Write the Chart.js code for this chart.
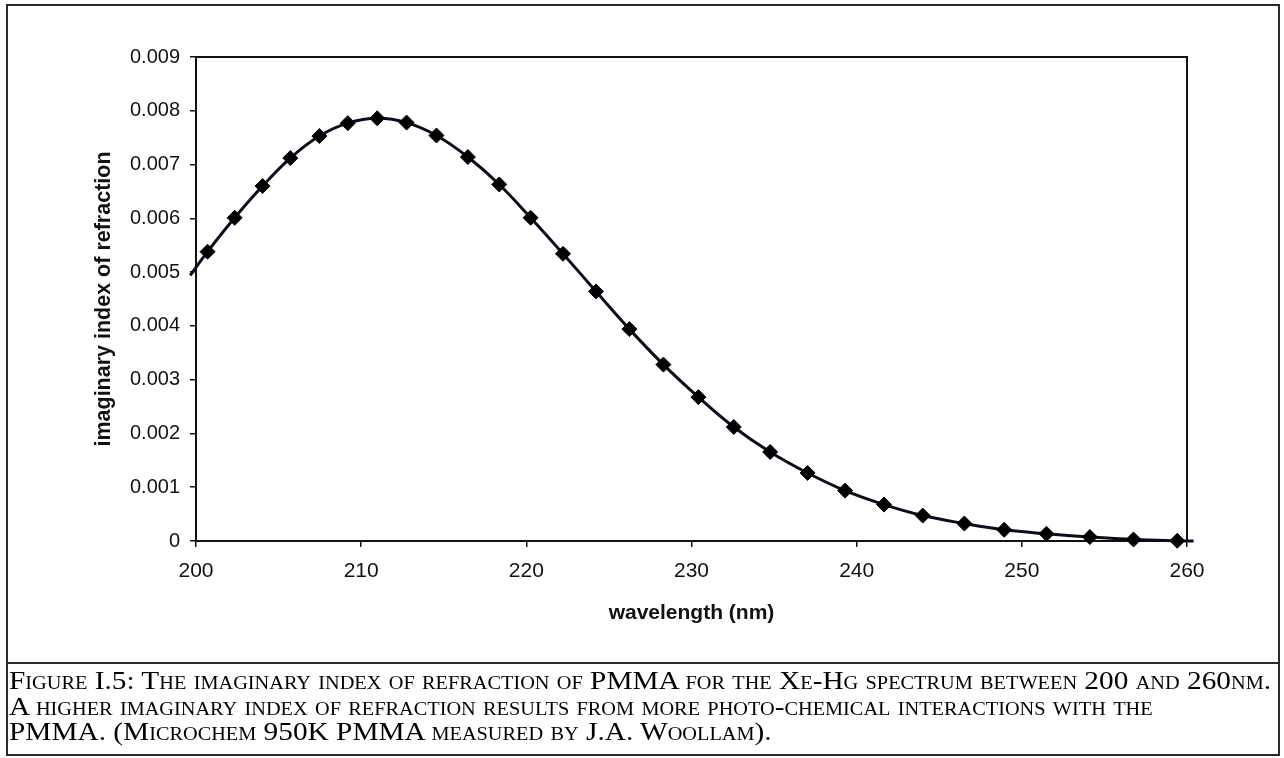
<!DOCTYPE html>
<html>
<head>
<meta charset="utf-8">
<script src="https://cdn.jsdelivr.net/npm/chart.js@4.4.1/dist/chart.umd.min.js"></script>
<style>
  html, body { margin: 0; padding: 0; background: #fff; }
  #wrap { position: relative; width: 1284px; height: 758px; overflow: hidden; background: #fff; }
  #chart { position: absolute; left: 0; top: 0; }
  #frame { position: absolute; left: 6px; top: 4px; width: 1274px; height: 752px; border: 2px solid #2a2a2a; box-sizing: border-box; pointer-events: none; }
  #divider { position: absolute; left: 6px; top: 662px; width: 1274px; height: 2px; background: #2a2a2a; }
  #caption { position: absolute; left: 9px; top: 668px; font-family: "Liberation Serif", "Times New Roman", serif; font-size: 26px; line-height: 25.5px; color: #000; font-variant: small-caps; white-space: nowrap; transform-origin: 0 0; }
  #caption div { white-space: nowrap; }
</style>
</head>
<body>
<div id="wrap">
  <canvas id="chart" width="1284" height="758"></canvas>
  <div id="frame"></div>
  <div id="divider"></div>
  <div id="caption">
    <div><span id="cap1">Figure I.5: The imaginary index of refraction of PMMA for the Xe-Hg spectrum between 200 and 260nm.</span></div>
    <div>A higher imaginary index of refraction results from more photo-chemical interactions with the</div>
    <div>PMMA. (Microchem 950K PMMA measured by J.A. Woollam).</div>
  </div>
</div>
<script>
// wavelength (nm)
const wavelengths = [199.65, 200.7, 202.34, 204.03, 205.71, 207.47, 209.19, 210.97, 212.75, 214.56,
  216.46, 218.36, 220.26, 222.22, 224.22, 226.24, 228.30, 230.42, 232.56, 234.76,
  237.03, 239.30, 241.66, 244.00, 246.52, 248.93, 251.49, 254.12, 256.76, 259.41, 260.4];
// imaginary index of refraction
const kValues = [0.00494, 0.00538, 0.00601, 0.00660, 0.00712, 0.00753, 0.00777, 0.00786, 0.00778, 0.00754,
  0.00714, 0.00663, 0.00601, 0.00534, 0.00464, 0.00394, 0.00328, 0.002675, 0.00212, 0.001655,
  0.001265, 0.000937, 0.000677, 0.000473, 0.000325, 0.000208, 0.000134, 0.000074, 0.000028, 0.000004, 0.0];
const xTickValues = [200, 210, 220, 230, 240, 250, 260];
const yTickLabels = ['0', '0.001', '0.002', '0.003', '0.004', '0.005', '0.006', '0.007', '0.008', '0.009'];
const xTitle = 'wavelength (nm)';
const yTitle = 'imaginary index of refraction';

const points = wavelengths.map((w, i) => ({ x: w, y: kValues[i] }));

const boxPlugin = {
  id: 'plotBox',
  beforeDatasetsDraw(chart) {
    const { ctx, chartArea: a } = chart;
    ctx.save();
    ctx.strokeStyle = '#111';
    ctx.lineWidth = 2;
    ctx.beginPath();
    ctx.moveTo(a.left, a.top);
    ctx.lineTo(a.right, a.top);
    ctx.lineTo(a.right, a.bottom);
    ctx.stroke();
    ctx.restore();
  }
};

const fam = '"Liberation Sans", Arial, sans-serif';

new Chart(document.getElementById('chart'), {
  type: 'line',
  data: {
    datasets: [{
      data: points,
      borderColor: '#0c0c20',
      borderWidth: 3,
      tension: 0.4,
      fill: false,
      clip: false,
      pointStyle: 'rectRot',
      pointRadius: c => (c.raw && (c.raw.x < 200 || c.raw.x > 260)) ? 0 : 7.5,
      pointBackgroundColor: '#000',
      pointBorderColor: '#000',
      pointBorderWidth: 1,
      pointHoverRadius: 7.5
    }]
  },
  options: {
    responsive: false,
    animation: false,
    devicePixelRatio: 1,
    layout: { padding: { left: 0, top: 57, right: 97, bottom: 0 } },
    plugins: { legend: { display: false }, tooltip: { enabled: false }, title: { display: false } },
    scales: {
      x: {
        type: 'linear',
        min: 200, max: 260,
        afterBuildTicks: s => { s.ticks = xTickValues.map(v => ({ value: v })); },
        afterFit: s => { s.height = 217; },
        ticks: { font: { family: fam, size: 21 }, color: '#111', padding: 12, maxRotation: 0, autoSkip: false },
        grid: { drawOnChartArea: false, drawTicks: true, tickLength: 6, color: '#111', lineWidth: 1.5 },
        border: { display: true, color: '#111', width: 2 },
        title: { display: true, text: xTitle, color: '#111',
          font: { family: fam, size: 21, weight: 'bold' },
          padding: { top: 0, bottom: 132 } }
      },
      y: {
        min: 0, max: 0.009,
        afterBuildTicks: s => { s.ticks = yTickLabels.map(t => ({ value: parseFloat(t) })); },
        afterFit: s => { s.width = 196; },
        ticks: { font: { family: fam, size: 20 }, color: '#111', padding: 10,
          callback: (v, i) => yTickLabels[i] },
        grid: { drawOnChartArea: false, drawTicks: true, tickLength: 6, color: '#111', lineWidth: 1.5 },
        border: { display: true, color: '#111', width: 2 },
        title: { display: true, text: yTitle, color: '#111',
          font: { family: fam, size: 21.5, weight: 'bold' },
          padding: { top: 91, bottom: 0 } }
      }
    }
  },
  plugins: [boxPlugin]
});

// fit the caption's first line to the figure width, as in the scanned original
const cap = document.getElementById('caption');
const w1 = document.getElementById('cap1').getBoundingClientRect().width;
const sx = 1262 / w1;
cap.style.transform = 'scaleX(' + sx.toFixed(4) + ')';
</script>
</body>
</html>
